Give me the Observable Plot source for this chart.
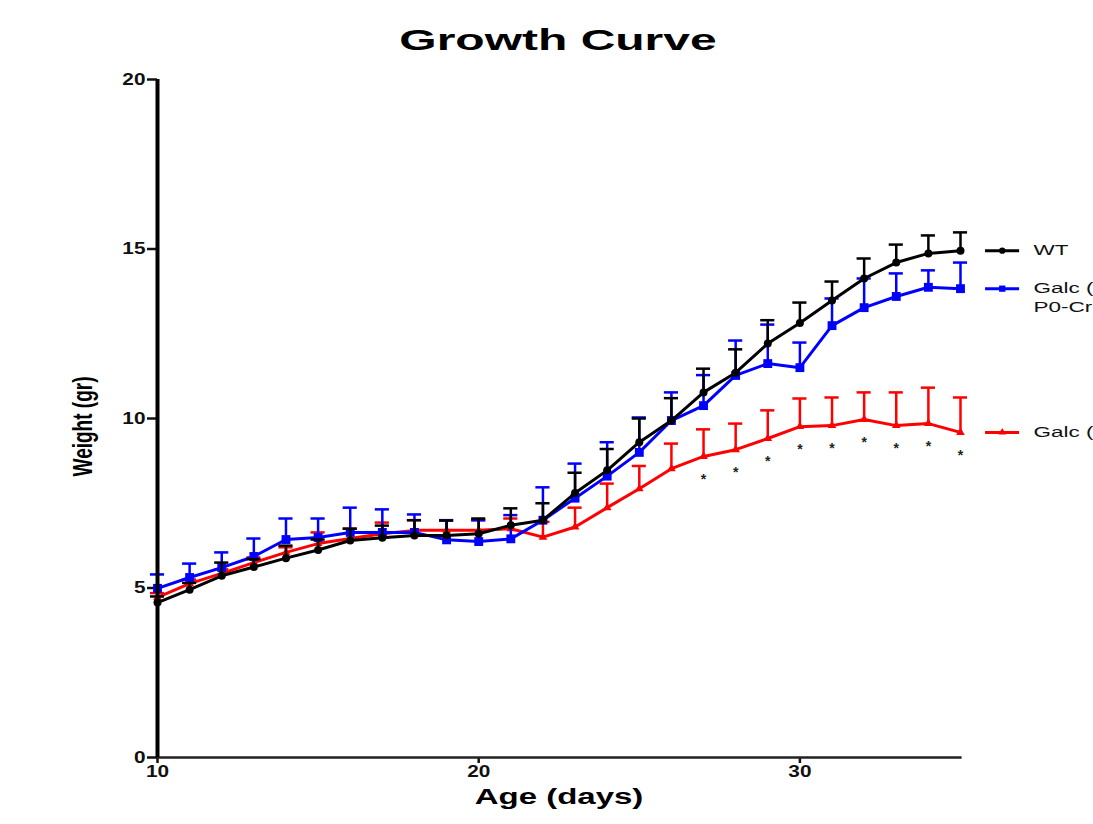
<!DOCTYPE html>
<html>
<head>
<meta charset="utf-8">
<script src="https://cdn.jsdelivr.net/npm/d3@7"></script>
<script src="https://cdn.jsdelivr.net/npm/@observablehq/plot@0.6"></script>
<style>
  html, body { margin: 0; padding: 0; background: #fff; overflow: hidden; }
  #wrap { position: relative; width: 1093px; height: 824px; }
  #title { position: absolute; left: 558px; top: 25px; font: bold 30px "Liberation Sans", Arial, sans-serif;
           line-height: 30px; white-space: nowrap; color: #000; transform: translateX(-50%) scaleX(1.6); }
  #chart { position: absolute; left: 0; top: 62px; }
  svg [aria-label="x-axis tick"], svg [aria-label="y-axis tick"] { stroke-width: 2.5px; }
</style>
</head>
<body>
<div id="wrap">
  <div id="title">Growth Curve</div>
  <div id="chart"></div>
</div>
<script>
// ---- data ----
const days = [10, 11, 12, 13, 14, 15, 16, 17, 18, 19, 20, 21, 22, 23, 24, 25, 26, 27, 28, 29, 30, 31, 32, 33, 34, 35];
const seriesNames = ["WT", "Galc (fl/+)\nP0-Cre", "Galc (fl/fl) P0-Cre"];
const seriesColors = ["#000000", "#0000ff", "#ff0000"];
const seriesSymbols = ["circle", "square", "triangle"];

const wtMean = [4.57, 4.95, 5.36, 5.62, 5.88, 6.12, 6.40, 6.48, 6.55, 6.55, 6.60, 6.85, 7.00, 7.80, 8.47, 9.30, 9.94, 10.77, 11.35, 12.21, 12.82, 13.48, 14.13, 14.60, 14.87, 14.95];
const wtSem  = [0.18, 0.20, 0.39, 0.23, 0.37, 0.31, 0.35, 0.36, 0.45, 0.44, 0.45, 0.50, 0.50, 0.60, 0.63, 0.70, 0.66, 0.70, 0.69, 0.69, 0.60, 0.56, 0.59, 0.53, 0.53, 0.54];

const hetMean = [4.99, 5.31, 5.60, 5.93, 6.43, 6.49, 6.64, 6.64, 6.64, 6.42, 6.37, 6.45, 7.00, 7.65, 8.30, 9.00, 9.94, 10.38, 11.27, 11.62, 11.50, 12.74, 13.27, 13.60, 13.87, 13.83];
const hetSem  = [0.41, 0.41, 0.45, 0.53, 0.62, 0.56, 0.73, 0.68, 0.53, 0.58, 0.63, 0.70, 0.97, 1.02, 1.00, 1.03, 0.83, 0.90, 1.03, 1.15, 0.74, 0.80, 0.86, 0.68, 0.50, 0.77];

const koMean = [4.72, 5.13, 5.43, 5.75, 6.05, 6.31, 6.46, 6.60, 6.70, 6.70, 6.70, 6.75, 6.50, 6.80, 7.37, 7.93, 8.52, 8.88, 9.08, 9.41, 9.76, 9.79, 9.97, 9.79, 9.85, 9.59];
const koSem  = [0.13, 0.12, 0.12, 0.15, 0.15, 0.33, 0.29, 0.33, 0.30, 0.30, 0.30, 0.30, 0.45, 0.57, 0.71, 0.67, 0.74, 0.80, 0.77, 0.83, 0.83, 0.83, 0.80, 0.98, 1.06, 1.03];

const starDays = [27, 28, 29, 30, 31, 32, 33, 34, 35];
const xTicks = [10, 20, 30];
const yTicks = [0, 5, 10, 15, 20];

// ---- build tables ----
const means = [wtMean, hetMean, koMean];
const sems = [wtSem, hetSem, koSem];
const series = seriesNames.map((name, k) =>
  days.map((d, i) => ({day: d, value: means[k][i], sem: sems[k][i], top: means[k][i] + sems[k][i], k}))
);
const stars = starDays.map(d => ({day: d, value: koMean[days.indexOf(d)]}));
const legendRows = series.map((rows, k) => ({...rows[rows.length - 1], name: seriesNames[k], k}));

const font = '"Liberation Sans", Arial, sans-serif';
const marks = [];
// draw red first, black last (on top)
for (const k of [2, 1, 0]) {
  const rows = series[k];
  const c = seriesColors[k];
  marks.push(
    Plot.ruleX(rows, {x: "day", y1: "value", y2: "top", stroke: c, strokeWidth: 2.5}),
    Plot.ruleY(rows, {y: "top", x1: d => d.day - 0.22, x2: d => d.day + 0.22, stroke: c, strokeWidth: 2.5}),
    Plot.line(rows, {x: "day", y: "value", stroke: c, strokeWidth: 3}),
    Plot.dot(rows, {x: "day", y: "value", fill: c, stroke: "none", symbol: seriesSymbols[k], r: k === 1 ? 5 : (k === 2 ? 3.2 : 4)})
  );
}
// significance stars
marks.push(Plot.text(stars, {x: "day", y: "value", text: () => "*", dy: 23, fontSize: 14, fontWeight: "bold", fill: "#222"}));
// axis lines
marks.push(Plot.ruleY([0], {x1: 10, x2: 35.05, stroke: "#222", strokeWidth: 2.5}));
marks.push(Plot.ruleX([10], {y1: 0, y2: 20, stroke: "#000", strokeWidth: 4}));
// legend (aligned with each series' last point, as in the reference)
marks.push(
  Plot.ruleY(legendRows, {y: "value", x1: d => d.day + 0.78, x2: d => d.day + 1.84, stroke: d => seriesColors[d.k], strokeWidth: 3}),
  Plot.dot(legendRows, {x: d => d.day + 1.3, y: "value", fill: d => seriesColors[d.k], stroke: "none",
    symbol: d => seriesSymbols[d.k], r: d => d.k === 1 ? 5 : (d.k === 2 ? 3.2 : 4)}),
  Plot.text(legendRows, {x: d => d.day + 2.27, y: "value", text: "name", textAnchor: "start", lineAnchor: "top",
    dy: -9, lineHeight: 1.25, fontSize: 15, fontWeight: "normal", fill: "#111"})
);
// axis titles
marks.push(
  Plot.text(["Age (days)"], {frameAnchor: "bottom", text: d => d, dy: 46, fontSize: 22, fontWeight: "bold", fill: "#000"}),
  Plot.text(["Weight (gr)"], {frameAnchor: "left", textAnchor: "middle", text: d => d, rotate: -90, dx: -75, dy: 8, fontSize: 19, fontWeight: "bold", fill: "#000"})
);

const chart = Plot.plot({
  width: 1093,
  height: 762,
  marginLeft: 157,
  marginRight: 133,
  marginTop: 17,
  marginBottom: 67,
  style: {fontFamily: font, fontSize: "16px", fontWeight: "bold", color: "#111", background: "#fff", overflow: "hidden"},
  x: {domain: [10, 35], ticks: xTicks, tickSize: 6, tickPadding: 2, tickFormat: d => String(d), label: null},
  y: {domain: [0, 20], ticks: yTicks, tickSize: 10, tickPadding: 2, tickFormat: d => String(d), label: null},
  marks
});
document.getElementById("chart").appendChild(chart);

// The reference is horizontally stretched: widen the glyphs to match.
chart.querySelectorAll("text").forEach(t => {
  const s = t.textContent.trim();
  const tr = t.getAttribute("transform") || "";
  const x = +t.getAttribute("x") || 0, y = +t.getAttribute("y") || 0;
  let sx = 1, sy = 1;
  if (tr.includes("rotate")) { sy = 1.5; }
  else if (/^\d+$/.test(s)) sx = 1.3;
  else if (s === "*") sx = 1;
  else sx = 1.5;
  if (sx !== 1 || sy !== 1)
    t.setAttribute("transform", `${tr} translate(${x},${y}) scale(${sx},${sy}) translate(${-x},${-y})`);
});
</script>
</body>
</html>
